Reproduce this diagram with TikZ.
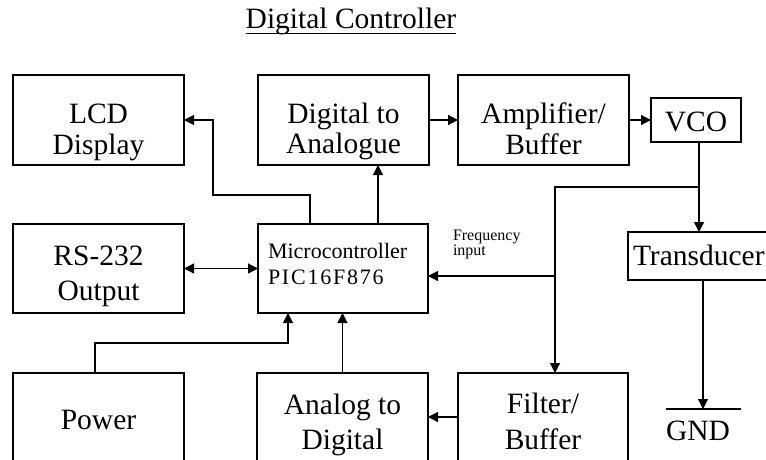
\documentclass[tikz,border=0pt]{standalone}
\usepackage{fontspec}
\setmainfont{Liberation Serif}
\usetikzlibrary{arrows.meta}
\newcommand\twol[3]{\begin{tabular}[t]{@{}c@{}}#2\\[#1]#3\end{tabular}}
\begin{document}
\begin{tikzpicture}[x=1pt,y=-1pt,
  blk/.style={draw,line width=1.1pt,inner sep=0pt,outer sep=0pt},
  txt/.style={inner sep=0pt,outer sep=0pt,font=\fontsize{29.5}{29.5}\selectfont},
  sml/.style={inner sep=0pt,outer sep=0pt,font=\fontsize{22}{22}\selectfont},
  tiny/.style={inner sep=0pt,outer sep=0pt,font=\fontsize{16}{15}\selectfont},
  conn/.style={line width=1.2pt},
  arr/.style={conn,-{Triangle[length=10pt,width=10pt]}},
  darr/.style={conn,{Triangle[length=10pt,width=10pt]}-{Triangle[length=10pt,width=10pt]}},
]
\useasboundingbox (0,0) rectangle (766,460);
\clip (0,0) rectangle (766,460);

% title
\node[txt,anchor=base] (tt) at (351,29) {Digital Controller};
\draw[line width=1pt] ([yshift=-4.5pt]tt.base west) -- ([yshift=-4.5pt]tt.base east);

% boxes
\node[blk,minimum width=171,minimum height=90] (lcd) at (98.5,120) {};
\node[blk,minimum width=171,minimum height=90] (da) at (343.5,120) {};
\node[blk,minimum width=171,minimum height=90] (amp) at (543.5,120) {};
\node[blk,minimum width=90,minimum height=44] (vco) at (696,120) {};
\node[blk,minimum width=171,minimum height=89] (rs) at (98.5,268.5) {};
\node[blk,minimum width=170,minimum height=89] (mc) at (343,268.5) {};
\node[blk,minimum width=147,minimum height=48] (tr) at (701.5,256) {};
\node[blk,minimum width=171,minimum height=90] (pw) at (98.5,418) {};
\node[blk,minimum width=171,minimum height=90] (ad) at (342.5,418) {};
\node[blk,minimum width=170,minimum height=90] (filt) at (543,418) {};

% texts
\node[txt,anchor=base] (lcdt) at (98.5,123) {\twol{2.5pt}{LCD}{Display}};
\node[txt,anchor=base] (dat) at (343.5,123) {\twol{1.5pt}{Digital to}{Analogue}};
\node[txt,anchor=base] (ampt) at (543.5,123) {\twol{1.5pt}{Amplifier/}{Buffer}};
\node[txt,anchor=base] (vcot) at (696,131.5) {VCO};
\node[txt,anchor=base] (rst) at (98.5,265) {\twol{5.5pt}{RS-232}{Output}};
\node[sml,anchor=base west] (mct) at (268,258) {\begin{tabular}[t]{@{}l@{}}Microcontroller\\[4pt]{\addfontfeature{LetterSpace=8}PIC16F876}\end{tabular}};
\node[txt,anchor=base west] (trt) at (633,265) {Transducer};
\node[txt,anchor=base] (pwt) at (98.5,429) {Power};
\node[txt,anchor=base] (adt) at (342.5,414) {\twol{5.5pt}{Analog to}{Digital}};
\node[txt,anchor=base] (filtt) at (543,413) {\twol{6.5pt}{Filter/}{Buffer}};
\node[tiny,anchor=base west] (fq) at (453,240) {\begin{tabular}[t]{@{}l@{}}Frequency\\input\end{tabular}};
\node[txt,anchor=base] (gndt) at (698,440) {GND};

% ground bar
\coordinate (g1) at (666,409);
\coordinate (g2) at (741,409);
\draw[conn] (g1) -- (g2);

% connectors
\draw[arr] ([xshift=-33pt]mc.north) |- (213,195) |- (lcd.east);
\draw[arr] ([xshift=35pt]mc.north) -- ([xshift=35pt]mc.north |- da.south);
\draw[arr] (da.east) -- (amp.west);
\draw[arr] (amp.east) -- (vco.west);
\draw[arr] ([xshift=3pt]vco.south) -- ([xshift=3pt]vco.south |- tr.north);
\coordinate (j1) at (699,187);
\coordinate (j2) at (555,276);
\draw[arr] (j1) -| ([xshift=12pt]filt.north);
\draw[arr] (j2) -- (j2 -| mc.east);
\draw[darr] (rs.east) -- (mc.west);
\coordinate (k1) at (288,343);
\draw[arr] ([xshift=-3.5pt]pw.north) |- (k1) -- (k1 |- mc.south);
\draw[arr] (ad.north) -- (ad.north |- mc.south);
\draw[arr] ([yshift=1pt]filt.west) -- ([yshift=1pt]filt.west -| ad.east);
\draw[arr] ([xshift=1.5pt]tr.south) -- ([xshift=1.5pt]tr.south |- g1);
\end{tikzpicture}
\end{document}
